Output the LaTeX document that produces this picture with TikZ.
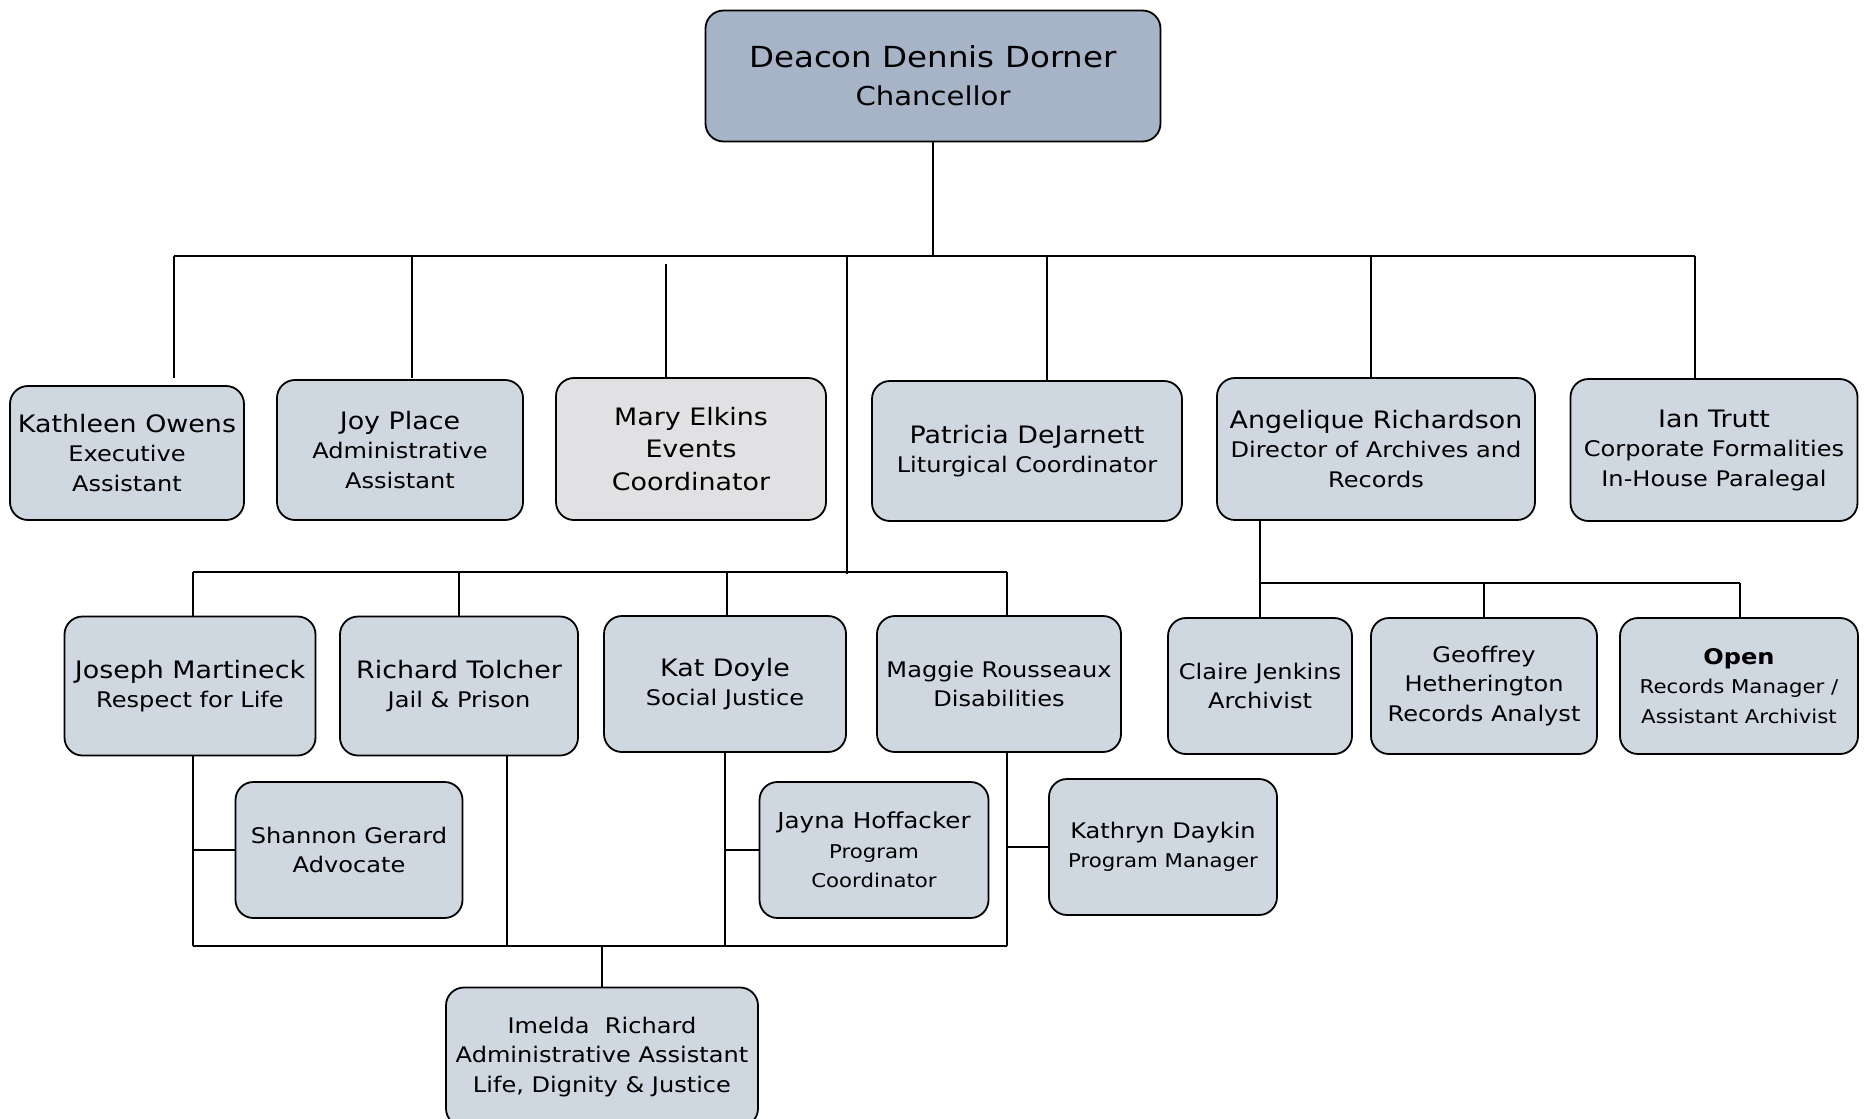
\documentclass[tikz,border=0pt]{standalone}
\usepackage{fontspec}
\setmainfont[FakeStretch=1.12]{DejaVu Sans}
\usepackage{xcolor}
\usetikzlibrary{calc}
\definecolor{boxfill}{HTML}{CFD7E1}
\definecolor{topfill}{HTML}{A7B4C7}
\definecolor{greyfill}{HTML}{E1E1E3}
\tikzset{
  every node/.style = {font = \fontsize{21.5}{29.5}\selectfont},
  box/.style = {draw, line width=1.8pt, rounded corners=18pt, fill=boxfill,
    align=center, inner sep=2pt},
  link/.style = {line width=1.6pt}
}
\newcommand{\nm}{\fontsize{24}{30}\selectfont}
\newcommand{\sm}{\fontsize{19}{26}\selectfont}

\begin{document}
\begin{tikzpicture}[x=1pt,y=-1pt]
\useasboundingbox (0,0) rectangle (1866,1119);

% The chancellor
\node[box, fill=topfill, minimum width=455pt, minimum height=131pt, font=\fontsize{29}{38}\selectfont] (chan) at (933,76)
  {Deacon Dennis Dorner\\ {\fontsize{26}{38}\selectfont Chancellor}};

% Second row
\node[box, minimum width=234pt, minimum height=134pt] (owens) at (127,453)
  {{\nm Kathleen Owens}\\ Executive\\ Assistant};
\node[box, minimum width=246pt, minimum height=140pt] (place) at (400,450)
  {{\nm Joy Place}\\ Administrative\\ Assistant};
\node[box, fill=greyfill, minimum width=270pt, minimum height=142pt, font=\fontsize{24}{32.5}\selectfont] (elkins) at (691,449)
  {Mary Elkins\\ Events\\ Coordinator};
\node[box, minimum width=310pt, minimum height=140pt] (dejarnett) at (1027,451)
  {{\nm Patricia DeJarnett}\\ Liturgical Coordinator};
\node[box, minimum width=318pt, minimum height=142pt] (richardson) at (1376,449)
  {{\nm Angelique Richardson}\\ Director of Archives and\\ Records};
\node[box, minimum width=287pt, minimum height=142pt] (trutt) at (1714,450)
  {{\nm Ian Trutt}\\ Corporate Formalities\\ In-House Paralegal};

% Third row
\node[box, minimum width=251pt, minimum height=139pt] (martineck) at (190,686)
  {{\nm Joseph Martineck}\\ Respect for Life};
\node[box, minimum width=238pt, minimum height=139pt] (tolcher) at (459,686)
  {{\nm Richard Tolcher}\\ Jail \& Prison};
\node[box, minimum width=242pt, minimum height=136pt] (doyle) at (725,684)
  {{\nm Kat Doyle}\\ Social Justice};
\node[box, minimum width=244pt, minimum height=136pt] (rousseaux) at (999,684)
  {Maggie Rousseaux\\ Disabilities};
\node[box, minimum width=184pt, minimum height=136pt] (jenkins) at (1260,686)
  {Claire Jenkins\\ Archivist};
\node[box, minimum width=226pt, minimum height=136pt] (hetherington) at (1484,686)
  {Geoffrey\\ Hetherington\\ Records Analyst};
\node[box, minimum width=238pt, minimum height=136pt] (open) at (1739,686)
  {\textbf{Open}\\ {\sm Records Manager /}\\ {\sm Assistant Archivist}};

% Fourth row
\node[box, minimum width=227pt, minimum height=136pt] (gerard) at (349,850)
  {Shannon Gerard\\ Advocate};
\node[box, minimum width=229pt, minimum height=136pt] (hoffacker) at (874,850)
  {{\fontsize{22}{29.5}\selectfont Jayna Hoffacker}\\ {\sm Program}\\ {\sm Coordinator}};
\node[box, minimum width=228pt, minimum height=136pt] (daykin) at (1163,847)
  {Kathryn Daykin\\ {\sm Program Manager}};
\node[box, minimum width=312pt, minimum height=139pt] (imelda) at (602,1057)
  {Imelda\ \ Richard\\ Administrative Assistant\\ Life, Dignity \& Justice};

% Bus points
\coordinate (busL) at (174,256);
\coordinate (busR) at (1695,256);
\coordinate (midL) at (193,572);
\coordinate (midR) at (1007,572);
\coordinate (arcL) at (1260,583);
\coordinate (arcR) at (1740,583);
\coordinate (lowL) at (193,946);
\coordinate (lowR) at (1007,946);
\coordinate (lowM) at (602,946);

% Top bus
\draw[link] (chan.south) -- (chan.south |- busL);
\draw[link] (busL) -- (busR);
\draw[link] (busL) -- ++(0,122);
\draw[link] (412,256) -- (412,378);
\draw[link] (666,264) -- (666,378);
\draw[link] (1047,256) -- (1047,381);
\draw[link] (1371,256) -- (richardson.north -| 1371,0);
\draw[link] (busR) -- (busR |- trutt.north);

% Middle bus
\draw[link] (847,256) -- (847,574);
\draw[link] (midL) -- (midR);
\draw[link] (midL) -- (midL |- martineck.north);
\draw[link] (459,572) -- (tolcher.north);
\draw[link] (727,572) -- (727,616);
\draw[link] (midR) -- (midR |- rousseaux.north);

% Archives
\draw[link] (richardson.south -| arcL) -- (arcL);
\draw[link] (arcL) -- (arcR);
\draw[link] (arcL) -- (jenkins.north);
\draw[link] (1484,583) -- (hetherington.north);
\draw[link] (arcR) -- (arcR |- open.north);

% Lower bus
\draw[link] (martineck.south -| lowL) -- (lowL);
\draw[link] (gerard.west -| lowL) -- (gerard.west);
\draw[link] (507,756) -- (507,946);
\draw[link] (doyle.south) -- (725,946);
\draw[link] (hoffacker.west -| doyle.south) -- (hoffacker.west);
\draw[link] (rousseaux.south -| lowR) -- (lowR);
\draw[link] (daykin.west -| lowR) -- (daykin.west);
\draw[link] (lowL) -- (lowR);
\draw[link] (lowM) -- (imelda.north);
\end{tikzpicture}
\end{document}
